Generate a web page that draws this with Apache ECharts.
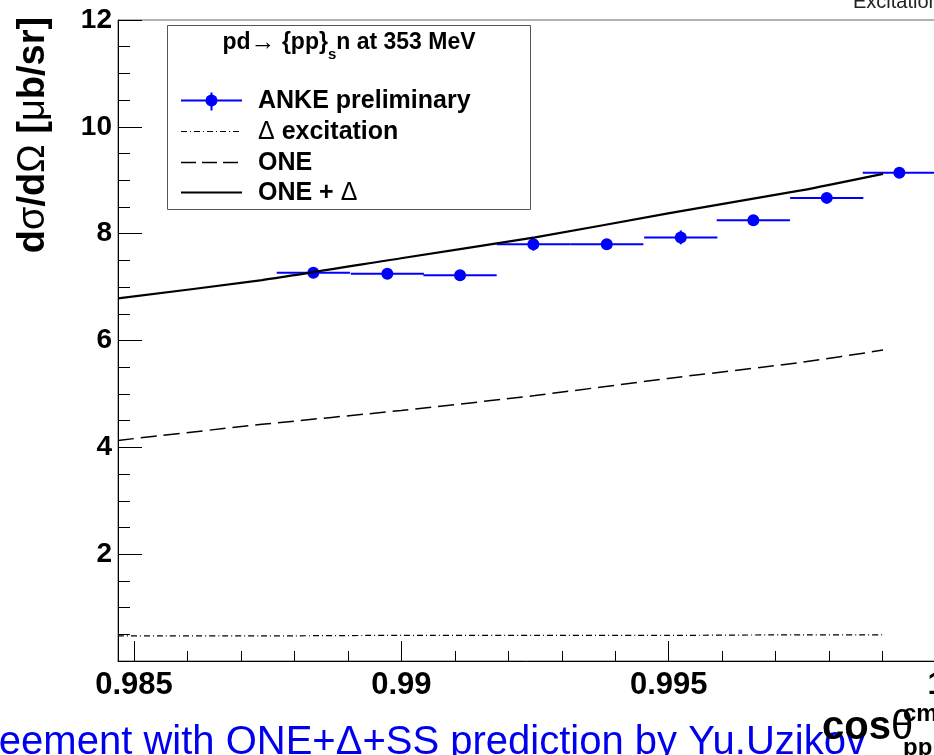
<!DOCTYPE html>
<html>
<head>
<meta charset="utf-8">
<script src="https://cdn.jsdelivr.net/npm/echarts@6/dist/echarts.min.js"></script>
<style>
html,body{margin:0;padding:0;background:#fff;}
#chart{width:934px;height:755px;}
</style>
</head>
<body>
<div id="chart"></div>
<script>
// ---- data ----
const cosCenters = [0.988353, 0.989737, 0.991097, 0.992468, 0.993841, 0.995225, 0.996582, 0.997955, 0.999313];
const ankeValues = [7.27, 7.25, 7.22, 7.80, 7.80, 7.93, 8.25, 8.67, 9.14];
const binHalfWidth = [0.000685, 0.000685, 0.000685, 0.000685, 0.000685, 0.000685, 0.000685, 0.000685, 0.000685];
const ankeYErr = [0.08, 0.08, 0.08, 0.12, 0.08, 0.13, 0.08, 0.08, 0.08];

const theoryCos = [0.984701, 0.987394, 0.989993, 0.992500, 0.994987, 0.997474, 0.999008];
const oneDeltaValues = [6.79, 7.13, 7.54, 7.93, 8.38, 8.81, 9.12];
const oneValues = [4.13, 4.43, 4.69, 4.97, 5.29, 5.59, 5.82];
const deltaValues = [0.47, 0.47, 0.48, 0.48, 0.48, 0.49, 0.49];

const xMajorTicks = [0.985, 0.99, 0.995, 1.0];
const xMajorLabels = ['0.985', '0.99', '0.995', '1'];
const xMinorTicks = [0.985, 0.986, 0.987, 0.988, 0.989, 0.99, 0.991, 0.992, 0.993, 0.994, 0.995, 0.996, 0.997, 0.998, 0.999, 1.0];
const yTickLabels = ['0', '2', '4', '6', '8', '10', '12'];

const legendTitle = 'pd{a|→} {pp}{s|s}n at 353 MeV';
const legendLabels = ['ANKE preliminary', '{g|Δ} excitation', 'ONE', 'ONE + {g|Δ}'];
const yTitle = '{b|d}{g|σ}{b|/d}{g|Ω}{b| [}{g|μ}{b|b/sr]}';
const footnote = 'Agreement with ONE+Δ+SS prediction by Yu.Uzikov';

// ---- chart ----
const FONT = '"Liberation Sans", Arial, Helvetica, sans-serif';
const X_MIN = 0.9847, X_MAX = 1.0005;
const chart = echarts.init(document.getElementById('chart'), null, {renderer: 'canvas'});

const pair = (xs, ys) => xs.map((x, i) => [x, ys[i]]);

const option = {
  animation: false,
  backgroundColor: '#ffffff',
  grid: {
    left: 118, top: 20, height: 641, width: (X_MAX - X_MIN) * 53470,
    show: true, borderColor: '#666', borderWidth: 1, backgroundColor: 'transparent',
    containLabel: false, outerBoundsMode: 'none'
  },
  xAxis: [
    {
      type: 'value', min: X_MIN, max: X_MAX, position: 'bottom',
      axisLine: {show: true, lineStyle: {color: '#000', width: 1}},
      axisTick: {show: true, inside: true, length: 20, customValues: xMajorTicks, lineStyle: {color: '#000', width: 1}},
      axisLabel: {
        show: true, customValues: xMajorTicks, margin: 9,
        fontFamily: FONT, fontWeight: 'bold', fontSize: 31, color: '#000',
        formatter: v => {
          const i = xMajorTicks.findIndex(t => Math.abs(t - v) < 1e-7);
          return i >= 0 ? xMajorLabels[i] : '';
        }
      },
      splitLine: {show: false}
    },
    {
      type: 'value', min: X_MIN, max: X_MAX, position: 'bottom', gridIndex: 0,
      axisLine: {show: false},
      axisTick: {show: true, inside: true, length: 10, customValues: xMinorTicks, lineStyle: {color: '#000', width: 1}},
      axisLabel: {show: false},
      splitLine: {show: false}
    }
  ],
  yAxis: {
    type: 'value', min: 0, max: 12, interval: 2,
    axisLine: {show: true, lineStyle: {color: '#000', width: 1}},
    axisTick: {show: true, inside: true, length: 24, lineStyle: {color: '#000', width: 1}},
    minorTick: {show: true, splitNumber: 4, length: 12, lineStyle: {color: '#000', width: 1}},
    axisLabel: {
      margin: 6, showMinLabel: false,
      fontFamily: FONT, fontWeight: 'bold', fontSize: 28, color: '#000',
      formatter: v => yTickLabels[Math.round(v / 2)]
    },
    splitLine: {show: false}
  },
  series: [
    {
      name: 'Δ excitation', type: 'line', xAxisIndex: 0, z: 4,
      data: pair(theoryCos, deltaValues), showSymbol: false, smooth: 0.2,
      lineStyle: {color: '#000', width: 1.2, type: [6, 3, 1, 3]}
    },
    {
      name: 'ONE', type: 'line', xAxisIndex: 0, z: 4,
      data: pair(theoryCos, oneValues), showSymbol: false, smooth: 0.2,
      lineStyle: {color: '#000', width: 1.5, type: [16, 7]}
    },
    {
      type: 'custom', name: 'ANKE preliminary', xAxisIndex: 0, z: 3,
      data: cosCenters.map((c, i) => [c, ankeValues[i], binHalfWidth[i], ankeYErr[i]]),
      renderItem: (params, api) => {
        const x = api.value(0), y = api.value(1), hw = api.value(2), ye = api.value(3);
        const pL = api.coord([x - hw, y]);
        const pR = api.coord([x + hw, y]);
        const pT = api.coord([x, y + ye]);
        const pB = api.coord([x, y - ye]);
        const pC = api.coord([x, y]);
        return {
          type: 'group',
          children: [
            {type: 'line', shape: {x1: pL[0], y1: pL[1], x2: pR[0], y2: pR[1]}, style: {stroke: '#0000ff', lineWidth: 2}},
            {type: 'line', shape: {x1: pC[0], y1: pT[1], x2: pC[0], y2: pB[1]}, style: {stroke: '#0000ff', lineWidth: 2}},
            {type: 'circle', shape: {cx: pC[0], cy: pC[1], r: 6}, style: {fill: '#0000ff'}}
          ]
        };
      }
    },
    {
      name: 'ONE + Δ', type: 'line', xAxisIndex: 0, z: 5,
      data: pair(theoryCos, oneDeltaValues), showSymbol: false, smooth: 0.2,
      lineStyle: {color: '#000', width: 2.2, type: 'solid'}
    }
  ],
  graphic: [
    // legend box
    {type: 'rect', z: 20, shape: {x: 167.5, y: 25.5, width: 363, height: 184}, style: {fill: '#fff', stroke: '#555', lineWidth: 1}},
    {type: 'text', z: 21, x: 349, y: 43, style: {
      text: legendTitle, align: 'center', verticalAlign: 'middle',
      font: 'bold 23px ' + FONT, fill: '#000', lineHeight: 36,
      rich: {
        a: {fontFamily: FONT, fontWeight: 'normal', fontSize: 25, lineHeight: 36},
        s: {fontFamily: FONT, fontWeight: 'bold', fontSize: 15, lineHeight: 38, verticalAlign: 'bottom'}
      }
    }},
    // ANKE entry
    {type: 'line', z: 21, shape: {x1: 181, y1: 100.5, x2: 242, y2: 100.5}, style: {stroke: '#0000ff', lineWidth: 2}},
    {type: 'line', z: 21, shape: {x1: 211.5, y1: 92.5, x2: 211.5, y2: 110.5}, style: {stroke: '#0000ff', lineWidth: 2}},
    {type: 'circle', z: 21, shape: {cx: 211.5, cy: 100.5, r: 6}, style: {fill: '#0000ff'}},
    // delta entry
    {type: 'line', z: 21, shape: {x1: 181, y1: 131.5, x2: 242, y2: 131.5}, style: {stroke: '#000', lineWidth: 1.2, lineDash: [6, 3, 1, 3]}},
    // ONE entry
    {type: 'line', z: 21, shape: {x1: 181, y1: 162.5, x2: 242, y2: 162.5}, style: {stroke: '#000', lineWidth: 1.5, lineDash: [15, 6]}},
    // ONE + delta entry
    {type: 'line', z: 21, shape: {x1: 181, y1: 192.5, x2: 242, y2: 192.5}, style: {stroke: '#000', lineWidth: 2}},
    ...legendLabels.map((t, i) => ({
      type: 'text', z: 21, x: 258, y: [101, 132, 163, 193][i],
      style: {
        text: t, align: 'left', verticalAlign: 'middle', font: 'bold 25px ' + FONT, fill: '#000',
        rich: {g: {fontFamily: FONT, fontWeight: 'normal', fontSize: 25}}
      }
    })),
    // y axis title
    {type: 'text', z: 21, x: 34, y: 135, rotation: Math.PI / 2, style: {
      text: yTitle, align: 'center', verticalAlign: 'middle', fill: '#000',
      font: 'bold 38px ' + FONT,
      rich: {
        b: {fontFamily: FONT, fontWeight: 'bold', fontSize: 38},
        g: {fontFamily: FONT, fontWeight: 'normal', fontSize: 38}
      }
    }},
    // footnote (cropped in the reference)
    {type: 'text', z: 21, x: 866, y: 743, style: {text: footnote, align: 'right', verticalAlign: 'middle', fill: '#0000ee', font: '40px ' + FONT}},
    // x axis title
    {type: 'text', z: 22, x: 822, y: 748, style: {
      text: 'cos{g|θ}', align: 'left', verticalAlign: 'bottom', fill: '#000',
      font: 'bold 40px ' + FONT,
      rich: {g: {fontFamily: FONT, fontWeight: 'normal', fontSize: 40}}
    }},
    {type: 'text', z: 22, x: 903, y: 726, style: {text: 'cm', align: 'left', verticalAlign: 'bottom', fill: '#000', font: 'bold 24px ' + FONT}},
    {type: 'text', z: 22, x: 903, y: 760, style: {text: 'pp', align: 'left', verticalAlign: 'bottom', fill: '#000', font: 'bold 24px ' + FONT}},
    // top-right cropped caption
    {type: 'text', z: 21, x: 853, y: 12, style: {text: 'Excitation', align: 'left', verticalAlign: 'bottom', fill: '#222', font: '20px ' + FONT}}
  ]
};
chart.setOption(option);
</script>
</body>
</html>
